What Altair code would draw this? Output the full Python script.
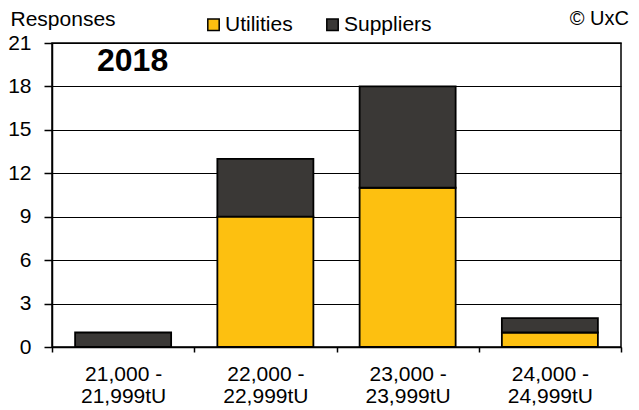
import altair as alt
import pandas as pd

categories = ["21,000 -|21,999tU", "22,000 -|22,999tU", "23,000 -|23,999tU", "24,000 -|24,999tU"]
utilities = [0, 9, 11, 1]
suppliers = [1, 4, 7, 1]
series = ["Utilities", "Suppliers"]
colors = ["#FDC010", "#3A3836"]
y_ticks = [0, 3, 6, 9, 12, 15, 18, 21]

rows = []
for c, u, s in zip(categories, utilities, suppliers):
    rows.append({"cat": c, "series": "Utilities", "value": u, "ord": 0})
    rows.append({"cat": c, "series": "Suppliers", "value": s, "ord": 1})
df = pd.DataFrame(rows)

FONT = "Liberation Sans"
FS = 21

bars = alt.Chart(df).mark_bar(
    width=alt.RelativeBandSize(0.675), stroke="black", strokeWidth=1.8
).encode(
    x=alt.X("cat:N", sort=categories, title=None,
            scale=alt.Scale(paddingInner=0, paddingOuter=0),
            axis=alt.Axis(labelExpr="split(datum.label, '|')", labelAngle=0,
                          labelFontSize=FS, labelFont=FONT, labelColor="black",
                          labelLineHeight=22, labelBaseline="top", labelPadding=11,
                          tickBand="extent", tickSize=5, tickColor="black", tickWidth=1.5,
                          domainColor="black", domainWidth=1.5, grid=False)),
    y=alt.Y("value:Q", stack="zero",
            scale=alt.Scale(domain=[0, 21], nice=False),
            axis=alt.Axis(values=y_ticks, title="Responses", titleAngle=0,
                          titleAlign="left", titleBaseline="middle",
                          titleX=-42, titleY=-24, titleFont=FONT, titleFontSize=FS,
                          titleFontWeight="normal", titleColor="black",
                          labelFontSize=FS, labelFont=FONT, labelColor="black",
                          labelPadding=13, tickSize=8, tickColor="black", tickWidth=1.5,
                          domainColor="black", domainWidth=1.5,
                          grid=True, gridColor="black", gridWidth=1)),
    color=alt.Color("series:N", sort=series,
                    scale=alt.Scale(domain=series, range=colors),
                    legend=alt.Legend(title=None, orient="none", direction="horizontal",
                                      legendX=151, legendY=-29,
                                      symbolType="square", symbolSize=130,
                                      symbolStrokeColor="black", symbolStrokeWidth=1.5,
                                      labelFont=FONT, labelFontSize=FS, labelColor="black",
                                      labelOffset=1, columnPadding=29)),
    order=alt.Order("ord:Q"),
)

year = alt.Chart(pd.DataFrame({"t": ["2018"]})).mark_text(
    font=FONT, fontSize=32, fontWeight="bold", align="left", baseline="middle", color="black"
).encode(x=alt.value(45), y=alt.value(18), text="t:N")

copy = alt.Chart(pd.DataFrame({"t": ["© UxC"]})).mark_text(
    font=FONT, fontSize=20, align="right", baseline="middle", color="black"
).encode(x=alt.value(577), y=alt.value(-24), text="t:N")

chart = alt.layer(bars, year, copy).properties(
    width=569, height=304,
    autosize=alt.AutoSizeParams(type="none"),
    padding={"left": 44, "top": 35, "right": 10, "bottom": 60},
).configure_view(stroke="black", strokeWidth=1.5)

chart.save("out.html", embed_options={"renderer": "svg", "actions": False})
